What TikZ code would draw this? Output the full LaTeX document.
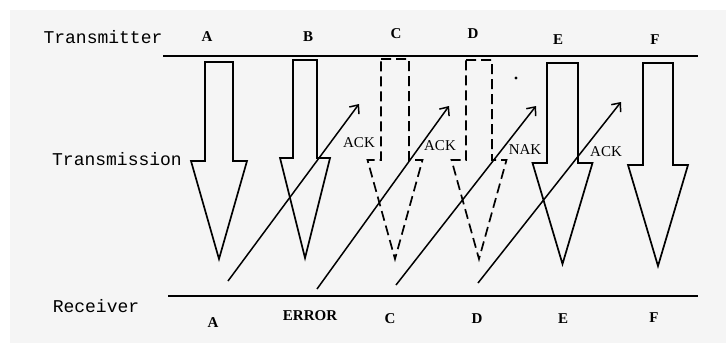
\documentclass[tikz,border=0pt]{standalone}
\usepackage{fontspec}
\setmainfont{Liberation Serif}
\newfontfamily\sidefont{Liberation Mono}
\usepackage{tikz}
\usetikzlibrary{arrows.meta}
\definecolor{paper}{HTML}{F5F5F5}

\begin{document}
\begin{tikzpicture}[
x=1pt, y=-1pt,
side/.style={font=\sidefont\fontsize{18}{20}\selectfont, inner sep=0pt},
tag/.style={font=\bfseries\fontsize{15}{17}\selectfont, inner sep=0pt},
note/.style={font=\fontsize{15}{17}\selectfont, inner sep=0pt},
block/.style={line width=1.7pt, line join=miter},
lost/.style={block, dash pattern=on 10pt off 5pt},
reply/.style={line width=1.5pt, -{Straight Barb[length=7pt,width=12pt]}},
wire/.style={line width=2pt}
]
\useasboundingbox (0,0) rectangle (726,343);
\fill[white] (0,0) rectangle (726,343);
\fill[paper] (10,10) rectangle (726,343);

% side labels
\node[side] (tx) at (103,37) {Transmitter};
\node[side] (tm) at (117,159) {Transmission};
\node[side] (rx) at (96,306) {Receiver};

% the two lines
\coordinate (tl) at (163,56);
\coordinate (tr) at (698,56);
\coordinate (bl) at (168,296);
\coordinate (br) at (698,296);
\draw[wire] (tl) -- (tr);
\draw[wire] (bl) -- (br);

% frame names
\node[tag] (tA) at (207,37) {A};
\node[tag] (tB) at (308,37) {B};
\node[tag] (tC) at (396,34) {C};
\node[tag] (tD) at (473,34) {D};
\node[tag] (tE) at (558,40) {E};
\node[tag] (tF) at (655,40) {F};
\node[tag] (rA) at (213,323) {A};
\node[tag] (rB) at (310,316) {ERROR};
\node[tag] (rC) at (390,319) {C};
\node[tag] (rD) at (477,319) {D};
\node[tag] (rE) at (563,319) {E};
\node[tag] (rF) at (654,318) {F};

% frames going down
\foreach \cx/\sw/\top/\neck/\hw/\tip/\sty in {
	219/14/62/161/28/259/block,
	305/12/60/158/25/258/block,
	395/14/59/160/27.5/259/lost,
	479/13/60/160/27.5/259/lost,
	562.5/15.5/63/163/30/264/block,
	658/15/63/165/30/266/block}
{
	\draw[\sty] ({\cx-\sw},\top) -- ({\cx+\sw},\top) -- ({\cx+\sw},\neck)
		-- ({\cx+\hw},\neck) -- (\cx,\tip) -- ({\cx-\hw},\neck)
		-- ({\cx-\sw},\neck) -- cycle;
}
\fill (516,78) circle (1.7);

% replies going up
\coordinate (s1) at (228,281);
\coordinate (e1) at (359,104);
\coordinate (s2) at (317,289);
\coordinate (e2) at (449,106);
\coordinate (s3) at (396,285);
\coordinate (e3) at (536,106);
\coordinate (s4) at (478,283);
\coordinate (e4) at (621,102);
\draw[reply] (s1) -- (e1);
\draw[reply] (s2) -- (e2);
\draw[reply] (s3) -- (e3);
\draw[reply] (s4) -- (e4);
\node[note] (k1) at (359,143) {ACK};
\node[note] (k2) at (440,146) {ACK};
\node[note] (k3) at (525,150) {NAK};
\node[note] (k4) at (606,152) {ACK};
\end{tikzpicture}
\end{document}
